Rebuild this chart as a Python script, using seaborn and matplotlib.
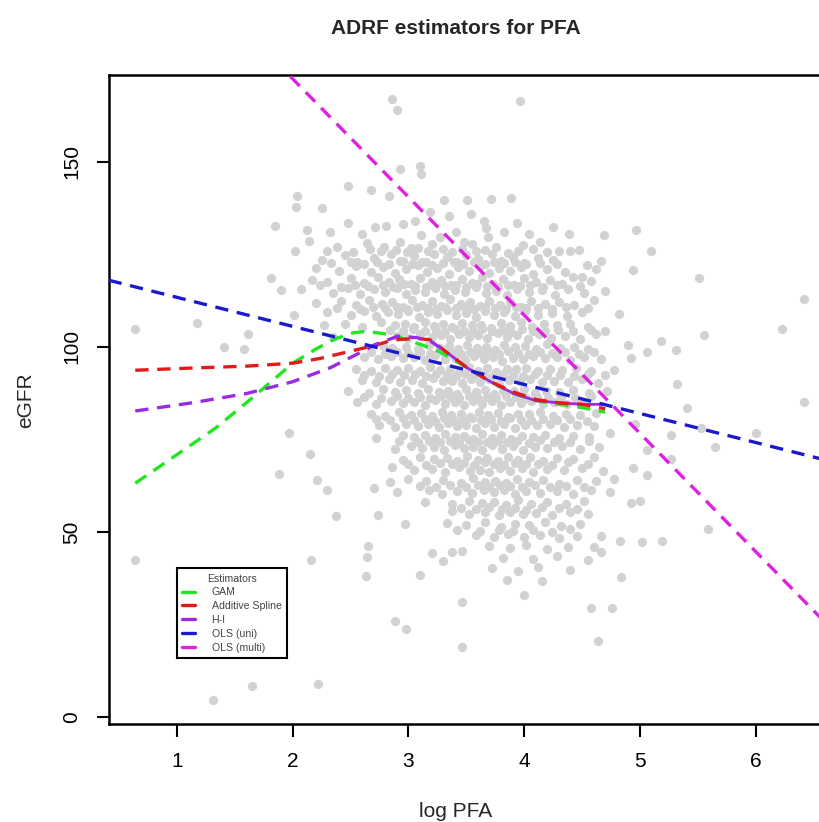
import matplotlib
matplotlib.use("Agg")
import matplotlib.pyplot as plt
from matplotlib.lines import Line2D
import seaborn as sns

# ---- scatter: log PFA vs eGFR ----
pfa = [
    # top outliers
    2.86, 2.90, 3.96, 3.10, 2.93, 3.11, 2.48, 2.68, 2.83, 3.31, 3.51, 3.71, 3.89, 2.04, 2.03, 2.25,
    # ~133
    1.85, 2.12, 2.32, 2.48, 2.60, 2.71, 2.81, 2.95, 3.06, 3.19, 3.35, 3.54, 3.65, 3.67, 3.94, 4.25, 4.39, 4.69, 4.97, 2.14,
    # ~128
    2.02, 2.38, 2.64, 2.79, 2.93, 3.02, 3.11, 3.20, 3.27, 3.41, 3.48, 3.55, 3.69, 3.76, 3.83, 3.99, 4.04, 4.14, 4.30, 4.40, 5.10,
    # ~124
    2.25, 2.45, 2.56, 2.70, 2.85, 2.95, 3.05, 3.15, 3.22, 3.33, 3.42, 3.50, 3.60, 3.72, 3.80, 3.90, 4.00, 4.12, 4.25, 4.54, 4.66,
    # ~121
    1.81, 2.20, 2.40, 2.55, 2.68, 2.78, 2.88, 2.98, 3.08, 3.16, 3.25, 3.35, 3.43, 3.52, 3.62, 3.70, 3.78, 3.88, 3.97, 4.08, 4.20, 4.35, 4.50, 4.62, 4.94,
    # ~118
    1.90, 2.17, 2.30, 2.50, 2.62, 2.74, 2.83, 2.92, 3.02, 3.10, 3.20, 3.28, 3.37, 3.46, 3.55, 3.64, 3.73, 3.82, 3.91, 4.00, 4.10, 4.22, 4.33, 4.42, 4.58, 5.51,
    # ~115
    2.07, 2.35, 2.48, 2.58, 2.70, 2.80, 2.90, 2.98, 3.06, 3.14, 3.23, 3.31, 3.40, 3.49, 3.58, 3.67, 3.76, 3.85, 3.94, 4.04, 4.15, 4.27, 4.38, 4.52, 4.70,
    # ~112
    2.20, 2.42, 2.55, 2.66, 2.77, 2.86, 2.95, 3.03, 3.12, 3.20, 3.28, 3.36, 3.45, 3.53, 3.62, 3.70, 3.79, 3.88, 3.97, 4.06, 4.18, 4.30, 4.43, 4.60, 6.42,
    # ~109
    2.01, 2.30, 2.50, 2.62, 2.72, 2.82, 2.91, 3.00, 3.09, 3.17, 3.25, 3.33, 3.41, 3.50, 3.58, 3.66, 3.74, 3.83, 3.92, 4.01, 4.12, 4.24, 4.37, 4.50, 4.82,
    # ~106
    1.17, 2.27, 2.45, 2.60, 2.76, 2.88, 2.97, 3.05, 3.14, 3.22, 3.30, 3.38, 3.46, 3.55, 3.63, 3.71, 3.80, 3.88, 3.97, 4.07, 4.17, 4.28, 4.40, 4.55, 4.70,
    # ~103
    0.64, 1.61, 2.35, 2.90, 3.00, 3.10, 3.20, 3.28, 3.36, 3.44, 3.52, 3.60, 3.68, 3.77, 3.85, 3.94, 4.03, 4.13, 4.23, 4.35, 4.48, 4.62, 5.55, 6.23,
    # ~100
    1.41, 1.58, 2.78, 2.86, 2.98, 3.08, 3.18, 3.27, 3.35, 3.43, 3.51, 3.59, 3.67, 3.75, 3.83, 3.92, 4.01, 4.10, 4.20, 4.31, 4.43, 4.55, 4.90, 5.18, 5.06,
    # ~97
    2.62, 2.74, 2.85, 2.95, 3.05, 3.14, 3.23, 3.32, 3.40, 3.49, 3.57, 3.65, 3.73, 3.81, 3.90, 3.99, 4.08, 4.18, 4.28, 4.40, 4.52, 4.66, 4.92, 5.31,
    # ~94
    2.55, 2.68, 2.80, 2.90, 3.00, 3.10, 3.19, 3.27, 3.36, 3.44, 3.52, 3.60, 3.68, 3.76, 3.85, 3.93, 4.02, 4.12, 4.22, 4.33, 4.45, 4.58, 4.78,
    # ~91
    2.60, 2.72, 2.83, 2.93, 3.03, 3.12, 3.21, 3.30, 3.38, 3.46, 3.54, 3.62, 3.70, 3.78, 3.87, 3.96, 4.05, 4.15, 4.26, 4.38, 4.50, 4.64, 5.32,
    # ~88
    2.48, 2.66, 2.78, 2.88, 2.98, 3.08, 3.17, 3.26, 3.34, 3.42, 3.50, 3.58, 3.66, 3.74, 3.82, 3.91, 4.00, 4.09, 4.19, 4.30, 4.42, 4.56, 4.72,
    # ~85
    2.56, 2.72, 2.85, 2.95, 3.05, 3.14, 3.23, 3.32, 3.40, 3.48, 3.56, 3.64, 3.72, 3.80, 3.88, 3.97, 4.06, 4.16, 4.26, 4.37, 4.50, 5.41, 6.42,
    # ~82
    2.68, 2.80, 2.92, 3.02, 3.11, 3.20, 3.29, 3.37, 3.45, 3.53, 3.61, 3.69, 3.77, 3.86, 3.95, 4.04, 4.14, 4.25, 4.36, 4.48, 4.62,
    # ~79
    2.75, 2.88, 2.98, 3.08, 3.17, 3.26, 3.34, 3.42, 3.50, 3.58, 3.66, 3.74, 3.83, 3.92, 4.01, 4.11, 4.22, 4.34, 4.46, 4.60, 4.96, 5.53,
    # ~76
    1.97, 2.72, 2.95, 3.05, 3.14, 3.23, 3.32, 3.40, 3.48, 3.56, 3.64, 3.72, 3.80, 3.89, 3.98, 4.08, 4.18, 4.30, 4.42, 4.56, 4.74, 5.27, 6.00,
    # ~73
    2.15, 2.88, 3.02, 3.12, 3.22, 3.31, 3.40, 3.48, 3.56, 3.64, 3.72, 3.81, 3.90, 3.99, 4.09, 4.20, 4.33, 4.48, 4.65, 5.06, 5.65,
    # ~70
    2.95, 3.10, 3.22, 3.33, 3.42, 3.51, 3.60, 3.68, 3.77, 3.86, 3.95, 4.05, 4.16, 4.28, 4.42, 4.60, 5.27,
    # ~67
    1.88, 2.86, 3.05, 3.20, 3.32, 3.44, 3.53, 3.62, 3.70, 3.79, 3.88, 3.98, 4.08, 4.20, 4.34, 4.50, 4.68, 4.94, 5.06,
    # ~64
    2.21, 2.84, 3.00, 3.15, 3.30, 3.45, 3.56, 3.66, 3.75, 3.84, 3.94, 4.04, 4.16, 4.30, 4.46, 4.62, 4.78,
    # ~61
    2.30, 2.70, 2.90, 3.18, 3.29, 3.42, 3.55, 3.65, 3.74, 3.83, 3.92, 4.02, 4.14, 4.28, 4.42, 4.58, 4.74,
    # ~58
    3.14, 3.38, 3.52, 3.64, 3.74, 3.84, 3.95, 4.06, 4.20, 4.36, 4.52, 4.92, 5.00,
    # ~55
    2.37, 2.74, 3.38, 3.52, 3.66, 3.78, 3.88, 3.99, 4.10, 4.24, 4.40, 4.55,
    # ~52
    2.97, 3.33, 3.50, 3.66, 3.80, 3.92, 4.04, 4.18, 4.32, 4.48, 5.59,
    # ~49
    3.58, 3.74, 3.86, 4.00, 4.14, 4.30, 4.46, 4.66,
    # ~46
    2.65, 3.46, 3.70, 3.88, 4.02, 4.20, 4.38, 4.60, 4.83, 5.02, 5.19, 4.66,
    # ~43
    2.16, 2.64, 3.20, 3.30, 3.38, 3.82, 4.08, 4.28, 4.55,
    # low tail
    3.72, 3.95, 4.12, 4.40, 2.63, 3.10, 3.85, 4.15, 4.84, 4.00, 3.46, 4.58, 4.76, 2.88, 2.98, 4.64, 3.46, 2.22, 1.65, 1.31, 0.64,
]
egfr = [
    167.0, 163.9, 166.4, 148.7, 148.1, 146.6, 143.5, 142.4, 140.7, 139.7, 139.7, 139.9, 140.3, 140.7, 137.8, 137.4,
    132.6, 131.5, 131.1, 133.4, 130.6, 132.4, 132.7, 133.1, 134.0, 136.5, 135.3, 135.9, 134.0, 132.1, 133.4, 132.4, 130.6, 130.2, 131.5, 128.6,
    125.8, 127.1, 128.1, 127.1, 128.3, 126.6, 130.2, 127.9, 129.6, 130.9, 128.2, 127.7, 129.8, 126.9, 130.9, 127.4, 130.6, 128.3, 125.8, 125.8, 125.8,
    123.5, 124.8, 122.9, 124.1, 125.2, 123.3, 124.6, 123.0, 125.1, 124.4, 122.8, 124.9, 123.6, 125.0, 123.2, 124.3, 122.7, 124.0, 123.4, 122.0, 123.3,
    118.5, 121.2, 120.4, 121.8, 120.1, 121.5, 119.9, 121.0, 122.0, 120.3, 121.4, 119.8, 121.7, 120.6, 121.9, 120.0, 121.3, 120.5, 121.6, 119.7, 121.1, 120.2, 118.9, 121.0, 120.8,
    115.4, 118.0, 117.4, 118.6, 117.2, 118.9, 117.6, 118.3, 116.9, 118.7, 117.5, 118.1, 116.8, 118.4, 117.3, 118.8, 117.0, 118.2, 116.7, 118.5, 117.4, 118.0, 116.9, 118.9, 117.7, 118.5,
    115.7, 114.6, 115.8, 114.2, 115.5, 114.9, 116.0, 114.4, 115.3, 114.7, 115.9, 114.3, 115.4, 114.8, 116.1, 114.5, 115.2, 114.0, 115.6, 114.9, 115.3, 114.1, 115.7, 114.6, 115.0,
    111.8, 112.4, 111.2, 112.7, 111.5, 112.1, 110.9, 112.6, 111.4, 112.3, 111.0, 112.8, 111.6, 112.0, 111.1, 112.5, 111.3, 112.2, 110.8, 112.4, 111.7, 112.0, 111.2, 112.6, 113.0,
    108.7, 109.3, 108.6, 109.8, 108.4, 109.5, 108.9, 109.7, 108.2, 109.4, 108.8, 109.9, 108.5, 109.2, 108.1, 109.6, 108.7, 109.3, 108.3, 109.8, 108.6, 109.1, 108.4, 109.5, 108.8,
    106.4, 105.8, 106.3, 105.5, 106.6, 105.9, 106.2, 105.4, 106.7, 105.7, 106.1, 105.3, 106.5, 105.8, 106.0, 105.2, 106.4, 105.6, 106.8, 105.5, 106.2, 105.9, 106.3, 105.4, 104.4,
    104.8, 103.4, 102.8, 103.0, 102.4, 103.6, 102.7, 103.3, 102.1, 103.5, 102.6, 103.1, 102.3, 103.7, 102.8, 103.2, 102.0, 103.4, 102.5, 103.0, 102.2, 103.6, 103.2, 104.7,
    100.0, 99.5, 100.3, 99.6, 100.1, 99.4, 100.5, 99.8, 100.2, 99.3, 100.6, 99.7, 100.0, 99.2, 100.4, 99.9, 100.2, 99.5, 100.7, 99.6, 100.1, 99.3, 100.6, 101.5, 98.7,
    97.2, 96.6, 97.5, 96.9, 97.3, 96.5, 97.7, 96.8, 97.1, 96.4, 97.6, 96.7, 97.4, 96.3, 97.0, 96.6, 97.5, 96.9, 97.2, 96.5, 97.3, 96.8, 96.9, 99.1,
    94.1, 93.5, 94.4, 93.8, 94.2, 93.4, 94.6, 93.7, 94.0, 93.3, 94.5, 93.6, 94.3, 93.2, 94.1, 93.9, 94.4, 93.5, 94.0, 93.7, 94.2, 93.4, 93.7,
    91.0, 90.4, 91.3, 90.6, 91.1, 90.3, 91.5, 90.7, 90.9, 90.2, 91.4, 90.5, 91.2, 90.1, 91.0, 90.8, 91.3, 90.4, 90.9, 90.6, 91.2, 90.3, 89.9,
    88.2, 87.6, 88.5, 87.9, 88.3, 87.5, 88.7, 87.8, 88.1, 87.4, 88.6, 87.7, 88.4, 87.3, 88.2, 88.0, 88.5, 87.6, 88.1, 87.8, 88.3, 87.5, 88.0,
    85.1, 84.5, 85.4, 84.8, 85.2, 84.4, 85.6, 84.7, 85.0, 84.3, 85.5, 84.6, 85.3, 84.2, 85.1, 84.9, 85.4, 84.5, 85.0, 84.7, 85.2, 83.6, 85.1,
    82.0, 81.4, 82.3, 81.7, 82.1, 81.3, 82.5, 81.6, 81.9, 81.2, 82.4, 81.5, 82.2, 81.1, 82.0, 81.8, 82.3, 81.4, 81.9, 81.6, 82.1,
    79.0, 78.4, 79.3, 78.7, 79.1, 78.3, 79.5, 78.6, 78.9, 78.2, 79.4, 78.5, 79.2, 78.1, 79.0, 78.8, 79.3, 78.4, 78.9, 78.6, 79.2, 78.0,
    76.8, 75.4, 76.3, 75.7, 76.1, 75.3, 76.5, 75.6, 75.9, 75.2, 76.4, 75.5, 76.2, 75.1, 76.0, 75.8, 76.3, 75.4, 75.9, 75.6, 76.7, 76.1, 76.7,
    71.1, 72.4, 73.3, 72.7, 73.1, 72.3, 73.5, 72.6, 72.9, 72.2, 73.4, 72.5, 73.2, 72.1, 73.0, 72.8, 73.3, 72.4, 72.9, 72.3, 72.9,
    69.5, 70.3, 69.7, 70.1, 69.3, 70.5, 69.6, 69.9, 69.2, 70.4, 69.5, 70.2, 69.1, 70.0, 69.8, 70.3, 69.8,
    65.6, 67.5, 66.7, 67.1, 66.3, 67.5, 66.6, 66.9, 66.2, 67.4, 66.5, 67.2, 66.1, 67.0, 66.8, 67.3, 66.4, 67.3, 65.4,
    64.2, 63.6, 64.3, 63.7, 64.1, 63.3, 64.5, 63.6, 63.9, 63.2, 64.4, 63.5, 64.2, 63.1, 64.0, 63.8, 64.3,
    61.4, 61.9, 60.8, 61.4, 60.2, 61.1, 60.5, 61.3, 60.7, 61.5, 60.4, 61.0, 60.6, 61.2, 60.3, 61.4, 60.9,
    58.0, 57.6, 58.4, 57.8, 58.2, 57.4, 58.6, 57.7, 58.1, 57.5, 58.3, 57.8, 58.4,
    54.3, 54.6, 55.7, 54.9, 55.3, 54.6, 55.5, 54.8, 55.2, 54.5, 55.4, 54.9,
    52.2, 52.4, 51.8, 52.6, 51.5, 52.3, 51.9, 52.7, 51.6, 52.1, 50.9,
    49.2, 48.6, 49.5, 48.8, 49.3, 48.5, 49.0, 48.9,
    46.2, 44.8, 46.3, 45.7, 46.5, 45.4, 46.1, 45.9, 47.7, 47.4, 47.7, 44.6,
    42.6, 43.4, 44.3, 42.3, 44.5, 43.1, 42.7, 43.5, 42.4,
    40.2, 39.6, 40.5, 39.8, 38.1, 38.4, 37.2, 36.8, 37.9, 33.0, 31.1, 29.5, 29.5, 26.0, 23.8, 20.7, 18.9, 8.9, 8.4, 4.7, 42.5,
]

# extra points filling the dense core of the cloud
core_pfa = [
    2.30, 2.52, 2.67, 2.76, 2.89, 2.99, 3.08, 3.17, 3.30, 3.38, 3.46, 3.58, 3.66, 3.86, 3.95, 4.08, 4.20, 4.47,
    2.33, 2.50, 2.62, 2.73, 2.83, 2.93, 3.03, 3.12, 3.20, 3.30, 3.39, 3.47, 3.57, 3.66, 3.74, 3.83, 3.92, 4.02, 4.14, 4.28,
    2.24, 2.42, 2.54, 2.65, 2.78, 2.87, 2.96, 3.06, 3.15, 3.24, 3.32, 3.41, 3.50, 3.59, 3.68, 3.77, 3.86, 3.96, 4.05, 4.16, 4.28, 4.48,
    2.38, 2.58, 2.69, 2.80, 2.90, 2.99, 3.07, 3.16, 3.24, 3.32, 3.41, 3.49, 3.57, 3.66, 3.75, 3.84, 3.93, 4.02, 4.12, 4.24, 4.36, 4.55,
    2.84, 2.95, 3.04, 3.14, 3.24, 3.32, 3.40, 3.48, 3.56, 3.64, 3.72, 3.81, 3.89, 3.98, 4.08, 4.18, 4.29, 4.42, 4.58,
    2.68, 2.80, 2.90, 3.00, 3.10, 3.19, 3.28, 3.37, 3.45, 3.53, 3.62, 3.70, 3.78, 3.86, 3.95, 4.04, 4.14, 4.24, 4.35, 4.47, 4.60,
    2.62, 2.75, 2.86, 2.96, 3.06, 3.15, 3.24, 3.33, 3.41, 3.49, 3.57, 3.65, 3.73, 3.82, 3.90, 3.99, 4.09, 4.20, 4.31, 4.43, 4.55, 4.70,
    2.62, 2.76, 2.90, 3.00, 3.10, 3.19, 3.28, 3.36, 3.44, 3.52, 3.60, 3.68, 3.76, 3.84, 3.93, 4.02, 4.11, 4.21, 4.32, 4.44, 4.58,
    2.72, 2.84, 2.95, 3.05, 3.14, 3.23, 3.31, 3.39, 3.47, 3.55, 3.63, 3.71, 3.80, 3.88, 3.97, 4.06, 4.16, 4.28, 4.40, 4.54,
    2.92, 3.08, 3.18, 3.27, 3.36, 3.44, 3.52, 3.60, 3.68, 3.77, 3.85, 3.94, 4.04, 4.14, 4.26, 4.40, 4.56,
    3.00, 3.15, 3.27, 3.38, 3.48, 3.57, 3.66, 3.74, 3.83, 3.92, 4.02, 4.12, 4.24, 4.38, 4.55,
    3.10, 3.24, 3.36, 3.50, 3.60, 3.70, 3.79, 3.88, 3.98, 4.09, 4.22, 4.36, 4.52,
    3.45, 3.58, 3.70, 3.81, 3.92, 4.02, 4.15, 4.30, 4.46,
    3.42, 3.62, 3.78, 3.90, 4.08, 4.24, 4.40,
]
core_egfr = [
    126.0, 125.7, 126.4, 125.9, 126.2, 125.5, 126.6, 125.8, 126.3, 125.6, 126.5, 125.9, 126.1, 125.4, 126.0, 126.3, 125.7, 126.1,
    122.6, 123.0, 122.3, 122.8, 122.5, 123.1, 122.4, 122.9, 122.2, 122.7, 123.0, 122.5, 122.8, 122.3, 122.9, 122.6, 123.0, 122.4, 122.7, 122.5,
    116.6, 116.3, 116.8, 116.4, 116.7, 116.2, 116.9, 116.5, 116.3, 116.8, 116.4, 116.6, 116.2, 116.9, 116.5, 116.3, 116.7, 116.4, 116.6, 116.2, 116.8, 116.5,
    110.6, 110.3, 110.8, 110.4, 110.7, 110.2, 110.9, 110.5, 110.3, 110.8, 110.4, 110.6, 110.2, 110.9, 110.5, 110.3, 110.7, 110.4, 110.6, 110.2, 110.8, 110.5,
    104.5, 104.2, 104.7, 104.3, 104.6, 104.1, 104.8, 104.4, 104.2, 104.7, 104.3, 104.5, 104.1, 104.8, 104.4, 104.2, 104.6, 104.3, 104.5,
    98.5, 98.2, 98.7, 98.3, 98.6, 98.1, 98.8, 98.4, 98.2, 98.7, 98.3, 98.5, 98.1, 98.8, 98.4, 98.2, 98.6, 98.3, 98.5, 98.1, 98.7,
    92.5, 92.2, 92.7, 92.3, 92.6, 92.1, 92.8, 92.4, 92.2, 92.7, 92.3, 92.5, 92.1, 92.8, 92.4, 92.2, 92.6, 92.3, 92.5, 92.1, 92.7, 92.4,
    86.5, 86.2, 86.7, 86.3, 86.6, 86.1, 86.8, 86.4, 86.2, 86.7, 86.3, 86.5, 86.1, 86.8, 86.4, 86.2, 86.6, 86.3, 86.5, 86.1, 86.7,
    80.5, 80.2, 80.7, 80.3, 80.6, 80.1, 80.8, 80.4, 80.2, 80.7, 80.3, 80.5, 80.1, 80.8, 80.4, 80.2, 80.6, 80.3, 80.5, 80.1,
    74.5, 74.2, 74.7, 74.3, 74.6, 74.1, 74.8, 74.4, 74.2, 74.7, 74.3, 74.5, 74.1, 74.8, 74.4, 74.2, 74.6,
    68.5, 68.2, 68.7, 68.3, 68.6, 68.1, 68.8, 68.4, 68.2, 68.7, 68.3, 68.5, 68.1, 68.8, 68.4,
    62.5, 62.2, 62.7, 62.3, 62.6, 62.1, 62.8, 62.4, 62.2, 62.7, 62.3, 62.5, 62.1,
    56.5, 56.2, 56.7, 56.3, 56.6, 56.1, 56.8, 56.4, 56.2,
    50.5, 50.2, 50.7, 50.3, 50.6, 50.1, 50.8,
]

# ---- estimated dose-response curves ----
gam_x = [0.64, 1.33, 1.68, 2.00, 2.20, 2.36, 2.52, 2.64, 2.87, 3.11, 3.27, 3.51, 3.71, 3.91, 4.10, 4.30, 4.50, 4.70]
gam_y = [63.2, 78.0, 87.0, 95.6, 99.4, 102.1, 103.8, 104.2, 103.2, 100.6, 98.7, 94.3, 90.6, 87.4, 85.5, 84.5, 83.6, 82.4]

spline_x = [0.64, 1.13, 1.60, 2.00, 2.24, 2.48, 2.71, 2.87, 3.07, 3.19, 3.35, 3.51, 3.71, 3.91, 4.10, 4.30, 4.50, 4.70]
spline_y = [93.7, 94.3, 94.8, 95.6, 96.9, 98.7, 100.4, 101.9, 102.3, 101.9, 98.1, 94.3, 90.6, 87.8, 85.8, 84.9, 84.5, 83.3]

hi_x = [0.64, 1.13, 1.60, 2.00, 2.32, 2.56, 2.71, 2.91, 3.07, 3.19, 3.35, 3.51, 3.71, 3.91, 4.10, 4.30, 4.50, 4.70]
hi_y = [82.7, 84.9, 87.4, 90.6, 94.3, 98.1, 100.6, 102.9, 102.5, 101.6, 98.1, 94.3, 90.6, 87.4, 85.5, 84.9, 84.5, 84.5]

ols_uni_x = [0.41, 6.56]
ols_uni_y = [118.0, 69.8]

ols_multi_x = [1.98, 6.56]
ols_multi_y = [173.0, 26.9]

labels = ["GAM", "Additive Spline", "H-I", "OLS (uni)", "OLS (multi)"]
colors = ["#22e622", "#e41a1a", "#9a2be0", "#1a1acc", "#e020e0"]

assert len(pfa) == len(egfr) and len(core_pfa) == len(core_egfr)

sns.set_theme(style="ticks")
plt.rcParams['font.family'] = ['Liberation Sans', 'DejaVu Sans']

fig = plt.figure(figsize=(8.2, 8.22), dpi=100)
ax = fig.add_axes([109 / 820, 1 - 724 / 822, 711 / 820, 649 / 822])

sns.scatterplot(x=pfa + core_pfa, y=egfr + core_egfr, color="#d2d2d2", s=44,
                linewidth=0, ax=ax, legend=False, zorder=1)

# dashed curves; the H-I curve turns solid where it runs through the dense middle
sns.lineplot(x=gam_x, y=gam_y, color=colors[0], linewidth=2.4, ax=ax, zorder=3)
ax.lines[-1].set_dashes((4, 2.6))
sns.lineplot(x=hi_x[10:], y=hi_y[10:], color=colors[2], linewidth=2.0, ax=ax, zorder=3)
sns.lineplot(x=spline_x, y=spline_y, color=colors[1], linewidth=2.4, ax=ax, zorder=3)
ax.lines[-1].set_dashes((4, 2.6))
sns.lineplot(x=hi_x[:11], y=hi_y[:11], color=colors[2], linewidth=2.4, ax=ax, zorder=3)
ax.lines[-1].set_dashes((4, 2.6))
sns.lineplot(x=ols_uni_x, y=ols_uni_y, color=colors[3], linewidth=2.4, ax=ax, zorder=3)
ax.lines[-1].set_dashes((4, 2.6))
sns.lineplot(x=ols_multi_x, y=ols_multi_y, color=colors[4], linewidth=2.4, ax=ax, zorder=3)
ax.lines[-1].set_dashes((4, 2.6))

ax.set_xlim(0.413, 6.556)
ax.set_ylim(-1.8, 173.4)
ax.set_xticks([1, 2, 3, 4, 5, 6])
ax.set_yticks([0, 50, 100, 150])
ax.tick_params(direction="out", length=9, width=1.5, pad=11, labelsize=15, colors="black")
for lab in ax.get_yticklabels():
    lab.set_rotation(90)
    lab.set_va("center")
for sp in ax.spines.values():
    sp.set_color("black")
    sp.set_linewidth(1.8)
ax.set_xlabel("")
ax.set_ylabel("")

handles = [Line2D([0], [0], color=c, linewidth=2.4) for c in colors]
leg = ax.legend(handles, labels, title="Estimators", loc="upper left",
                bbox_to_anchor=(0.0952, 0.24), borderaxespad=0, fontsize=7.6,
                title_fontsize=7.6, frameon=True, fancybox=False, framealpha=1,
                edgecolor="black", handlelength=1.2, handletextpad=1.6,
                labelspacing=0.36, borderpad=0.5)
leg.get_frame().set_linewidth(1.5)
for t in leg.get_texts():
    t.set_color("#444444")
leg.get_title().set_color("#444444")

fig.text(456 / 820, 1 - 28 / 822, "ADRF estimators for PFA", ha="center", va="center",
         fontsize=15, fontweight="bold")
fig.text(456 / 820, 1 - 811 / 822, "log PFA", ha="center", va="center", fontsize=15)
fig.text(26 / 820, 1 - 400 / 822, "eGFR", ha="center", va="center", rotation=90, fontsize=15)

fig.savefig("out.png", dpi=100)
